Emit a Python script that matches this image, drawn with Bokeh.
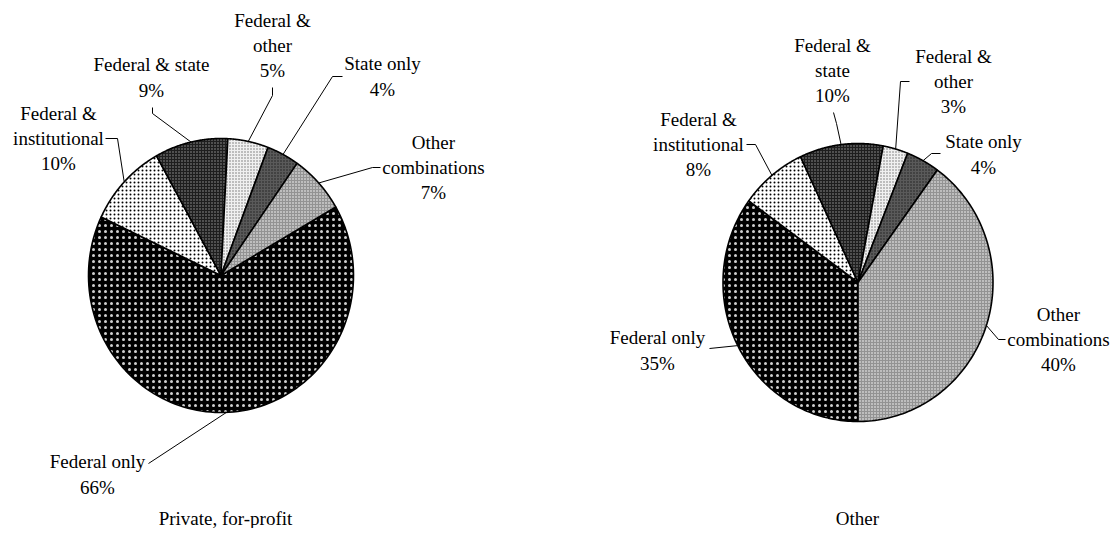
import numpy as np
from bokeh.plotting import figure
from bokeh.models import Range1d
from bokeh.embed import file_html
from bokeh.resources import INLINE
from bokeh.core.properties import value

# ---------------- data ----------------
categories = ["Federal only", "Federal & institutional", "Federal & state",
              "Federal & other", "State only", "Other combinations"]
forprofit_pct = [66, 10, 9, 5, 4, 7]
other_pct = [35, 8, 10, 3, 4, 40]
titles = ["Private, for-profit", "Other"]
left_labels = ["Federal only", "Federal &\ninstitutional", "Federal & state",
               "Federal &\nother", "State only", "Other\ncombinations"]
right_labels = ["Federal only", "Federal &\ninstitutional", "Federal &\nstate",
                "Federal &\nother", "State only", "Other\ncombinations"]

# ---------------- styles / layout ----------------
W, H = 1111, 528
FONT = "Liberation Serif"
FS = "19px"

fills = ["#000000", "#ffffff", "#1e1e1e", "#f0f0f0", "#5a5a5a", "#939393"]
hatch_colors = ["#d0d0d0", "#000000", "#9a9a9a", "#707070", "#1e1e1e", "#ffffff"]
hatch_scales = [6, 4, 3, 3, 3, 3]
hatch_weights = [0.5, 0.6, 0.8, 0.8, 0.8, 0.8]


def Y(py):
    return 544 - py


pies = [
    dict(vals=forprofit_pct, labels=left_labels, title=titles[0],
         cx=220.5, cy=275, rx=132.5, ry=137, start=60.0, title_pos=(225, 518),
         label_pos=[(97, 474), (58, 138), (151, 77), (272, 45), (382, 76), (433, 167)],
         elbows=[[(148, 463)], [(105, 138), (117, 138)], [(152, 107), (152, 113)],
                 [(272, 87), (272, 95)], [(342, 76), (332, 76)], [(380, 167), (372, 167)]]),
    dict(vals=other_pct, labels=right_labels, title=titles[1],
         cx=857.5, cy=282, rx=135, ry=139, start=180.0, title_pos=(857, 518),
         label_pos=[(657, 350), (698, 144), (832, 70), (953, 81), (983, 154), (1058, 339)],
         elbows=[[(709, 348)], [(746, 144), (755, 144)], [(833, 112), (836, 123)],
                 [(909, 81), (900, 81)], [(940, 153), (931, 153)], [(1005, 339), (998, 339)]]),
]

p = figure(width=W, height=H, output_backend="svg", toolbar_location=None,
           x_range=Range1d(0, W), y_range=Range1d(Y(H), Y(0)),
           min_border=0)
p.axis.visible = False
p.grid.visible = False
p.outline_line_color = None
p.background_fill_color = "white"

for pie in pies:
    vals = np.array(pie["vals"], dtype=float)
    angs = vals / vals.sum() * 360.0
    bounds = pie["start"] + np.concatenate([[0], np.cumsum(angs)])
    cx, cy, rx, ry = pie["cx"], Y(pie["cy"]), pie["rx"], pie["ry"]
    for i in range(len(vals)):
        t = np.radians(np.linspace(bounds[i], bounds[i + 1], 120))
        xs = np.concatenate([[cx], cx + rx * np.sin(t)])
        ys = np.concatenate([[cy], cy + ry * np.cos(t)])
        p.patch(xs, ys, fill_color=fills[i], line_color="black", line_width=1.6,
                hatch_pattern="dot", hatch_color=hatch_colors[i],
                hatch_scale=hatch_scales[i], hatch_weight=hatch_weights[i])
    # leader lines + labels
    for i in range(len(vals)):
        mid = np.radians((bounds[i] + bounds[i + 1]) / 2.0)
        ex, ey = cx + rx * np.sin(mid), cy + ry * np.cos(mid)
        pts = pie["elbows"][i]
        lx = [q[0] for q in pts] + [ex]
        ly = [Y(q[1]) for q in pts] + [ey]
        p.line(lx, ly, line_color="black", line_width=1)
        tx, ty = pie["label_pos"][i]
        p.text([tx], [Y(ty)], text=[f"{pie['labels'][i]}\n{pie['vals'][i]}%"],
               text_font=value(FONT), text_font_size=FS, text_color="black",
               text_align="center", text_baseline="middle", text_line_height=1.2)
    tx, ty = pie["title_pos"]
    p.text([tx], [Y(ty)], text=[pie["title"]], text_font=value(FONT),
           text_font_size=FS, text_color="black", text_align="center",
           text_baseline="middle")

open("out.html", "w").write(file_html(p, INLINE))
